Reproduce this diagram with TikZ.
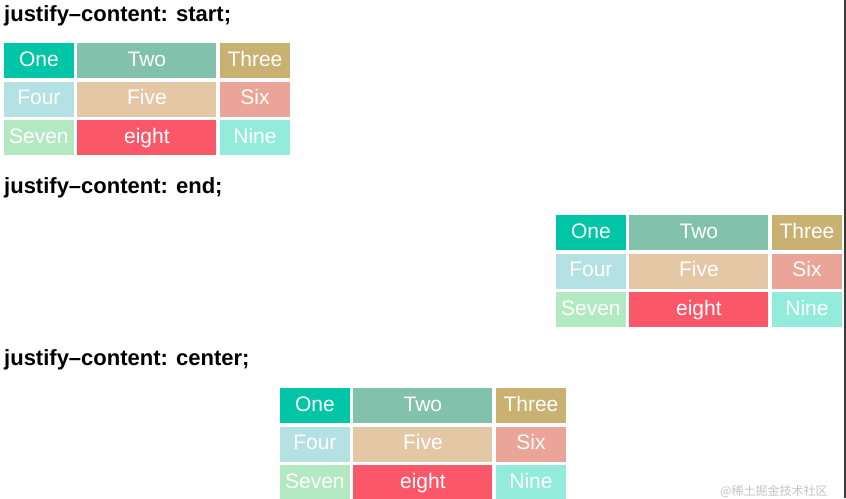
\documentclass[tikz,border=0pt]{standalone}
\usepackage{fontspec}
\setmainfont{Liberation Sans}
\newfontfamily\cjkfont{Noto Sans CJK SC}
\usepackage{xcolor}
\usetikzlibrary{positioning}

\definecolor{cOne}{HTML}{00C5A6}
\definecolor{cTwo}{HTML}{82C2AC}
\definecolor{cThree}{HTML}{C9B172}
\definecolor{cFour}{HTML}{B3E1E4}
\definecolor{cFive}{HTML}{E4C8A5}
\definecolor{cSix}{HTML}{EAA598}
\definecolor{cSeven}{HTML}{B3E9C1}
\definecolor{cEight}{HTML}{FA5868}
\definecolor{cNine}{HTML}{93ECDB}
\definecolor{edge}{HTML}{3A3A3A}
\definecolor{mark}{HTML}{C4C4C4}

\begin{document}
\begin{tikzpicture}[
    x=1pt, y=-1pt,
    node distance=3pt and 3.5pt,
    cell/.style={rectangle, fill=#1, text=white, inner sep=0pt, minimum height=35pt, text height=15.5pt, text depth=4.5pt, font=\fontsize{21}{21}\selectfont},
    narrow/.style={minimum width=69.3pt},
    wide/.style={minimum width=139pt},
    heading/.style={anchor=base west, inner sep=0pt, font=\fontsize{22}{22}\selectfont\bfseries}
]
    \useasboundingbox (0,0) rectangle (846,498);
    \fill[white] (0,0) rectangle (846,498);

    % headings
    \node [heading] (hst) at (4,21) {justify–content: start;};
    \node [heading] (hen) at (4,193) {justify–content: end;};
    \node [heading] (hce) at (4,365) {justify–content: center;};

    % the three grids
    \foreach \g/\gx/\gy in {st/4/43, en/556/215, ce/280/388} {
        \node [cell=cOne, narrow, anchor=north west] (\g1) at (\gx,\gy) {One};
        \node [cell=cTwo, wide, right=of \g1] (\g2) {Two};
        \node [cell=cThree, narrow, right=of \g2] (\g3) {Three};
        \node [cell=cFour, narrow, below=of \g1] (\g4) {Four};
        \node [cell=cFive, wide, right=of \g4] (\g5) {Five};
        \node [cell=cSix, narrow, right=of \g5] (\g6) {Six};
        \node [cell=cSeven, narrow, below=of \g4] (\g7) {Seven};
        \node [cell=cEight, wide, right=of \g7] (\g8) {eight};
        \node [cell=cNine, narrow, right=of \g8] (\g9) {Nine};
    }

    % window edge and watermark
    \fill[edge] (843.5,0) rectangle (846,498);
    \node [anchor=base west, inner sep=0pt, text=mark, font=\cjkfont\fontsize{12}{12}\selectfont] (wm) at (720,495) {@稀土掘金技术社区};
\end{tikzpicture}
\end{document}
